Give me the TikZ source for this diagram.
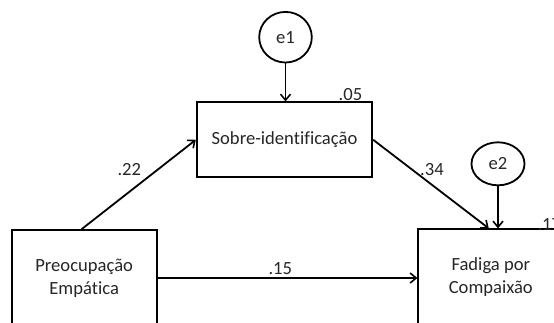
\documentclass[tikz,border=0pt]{standalone}
\usepackage{fontspec}
\setmainfont[Ligatures=NoCommon]{Carlito}
\usetikzlibrary{arrows.meta,shapes.geometric}
\begin{document}
\begin{tikzpicture}[x=1pt,y=-1pt,
  font=\fontsize{18.6}{23}\selectfont,
  every node/.style={text=black!85},
  boxnode/.style={draw=black,line width=1.8pt,rectangle,inner sep=0pt,align=center},
  errnode/.style={draw=black,line width=1.8pt,ellipse,inner sep=0pt},
  lbl/.style={inner sep=0pt},
  conn/.style={line width=1.8pt,-{Straight Barb[length=6pt,width=10pt,line width=1.6pt]}}]
\path[use as bounding box,clip] (0,0) rectangle (554,322);
\node[errnode,minimum width=52.6pt,minimum height=50.6pt] (e1) at (285.5,37.2) {e1};
\node[boxnode,minimum width=175.6pt,minimum height=75pt] (sobre) at (284.5,139.8) {Sobre-identificação};
\node[boxnode,minimum width=145pt,minimum height=96pt] (pre) at (84.2,278) {Preocupação\\Empática};
\node[boxnode,minimum width=145pt,minimum height=96pt] (fad) at (490.8,277.3) {Fadiga por\\Compaixão};
\node[errnode,minimum width=53pt,minimum height=43pt] (e2) at (498,163.8) {e2};
\draw[conn] (e1.south) -- (e1.south |- sobre.north);
\draw[conn] (e2.south) -- (e2.south |- fad.north);
\draw[conn] ([xshift=-2.5pt]pre.north) -- (sobre.west);
\draw[conn] (sobre.east) -- ([xshift=-2pt]fad.north);
\draw[conn] (pre.east) -- (fad.west |- pre.east);
\node[lbl] (l22) at (129.3,170) {.22};
\node[lbl] (l05) at (350.5,94.3) {.05};
\node[lbl] (l34) at (432,169.3) {.34};
\node[lbl] (l15) at (280.3,268.7) {.15};
\node[lbl,anchor=west] (l17) at (537.3,225) {.17};
\end{tikzpicture}
\end{document}
